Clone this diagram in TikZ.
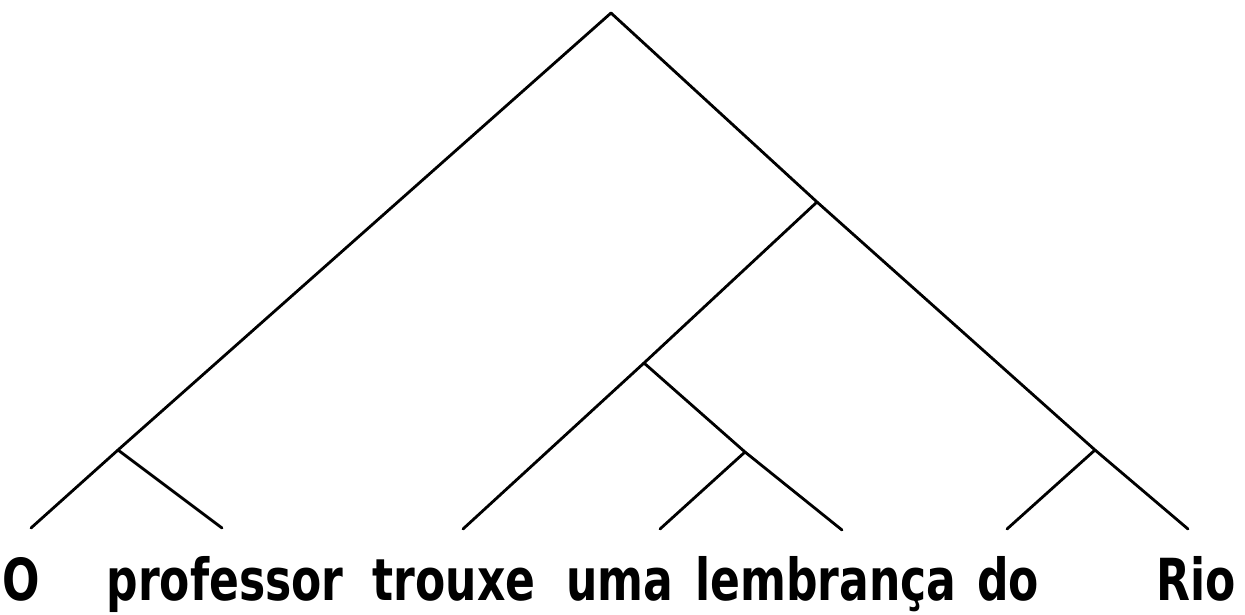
\documentclass[tikz,border=0pt]{standalone}
\usepackage{fontspec}
\newfontfamily\treefont[FakeStretch=0.76]{DejaVu Sans}
\begin{document}
\begin{tikzpicture}[
    x=0.02cm, y=-0.02cm,
    branch/.style={line width=1.6pt, line cap=round, line join=round},
    word/.style={anchor=base, inner sep=0pt, font=\treefont\bfseries\fontsize{33}{38}\selectfont}
]
\useasboundingbox (0,0) rectangle (1245,615);
\coordinate (root) at (611,13);
\coordinate (np) at (118,450);
\coordinate (vp) at (817,202);
\coordinate (vbar) at (644,363);
\coordinate (obj) at (745,452);
\coordinate (pp) at (1095,450);
\coordinate (lO) at (31,528);
\coordinate (lprofessor) at (222,528);
\coordinate (ltrouxe) at (463,529);
\coordinate (luma) at (660,529);
\coordinate (llembranca) at (842,530);
\coordinate (ldo) at (1007,529);
\coordinate (lrio) at (1188,529);
\draw[branch] (lO) -- (np) -- (root) -- (vp) -- (pp) -- (lrio);
\draw[branch] (np) -- (lprofessor);
\draw[branch] (vp) -- (vbar) -- (ltrouxe);
\draw[branch] (vbar) -- (obj) -- (llembranca);
\draw[branch] (obj) -- (luma);
\draw[branch] (pp) -- (ldo);
\node[word] (wO) at (21,600) {O};
\node[word] (wprofessor) at (225,600) {professor};
\node[word] (wtrouxe) at (454,600) {trouxe};
\node[word] (wuma) at (620,600) {uma};
\node[word] (wlembranca) at (826,600) {lembrança};
\node[word] (wdo) at (1008,600) {do};
\node[word] (wrio) at (1196,600) {Rio};
\end{tikzpicture}
\end{document}
